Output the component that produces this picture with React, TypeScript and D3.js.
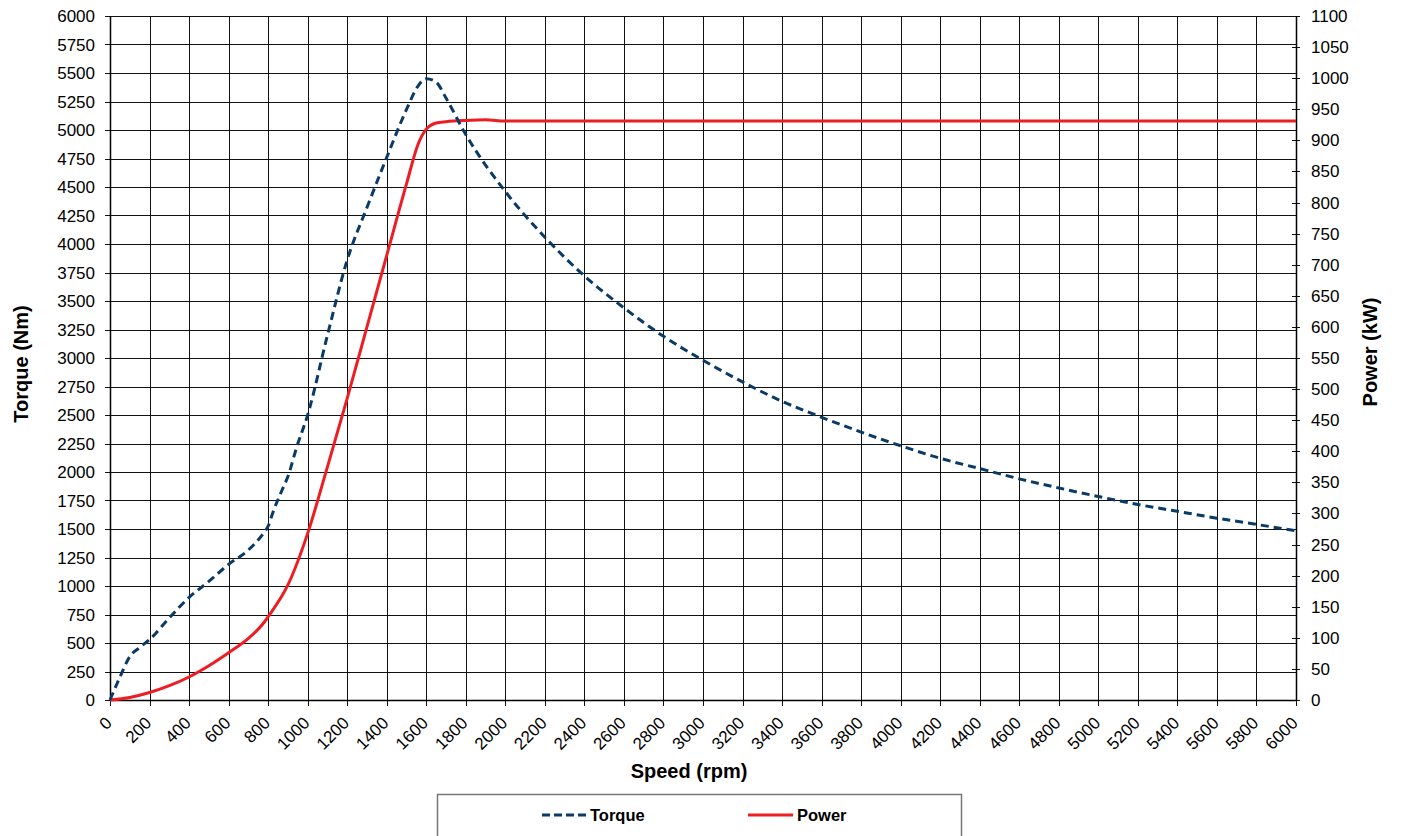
import * as d3 from 'd3';

// Speed (rpm) vs torque (Nm)
const torqueRpm = [0, 50, 100, 150, 200, 300, 400, 500, 600, 700, 775, 800, 825, 870, 900, 945, 1000, 1100, 1200, 1300, 1400, 1500, 1560, 1600, 1650, 1700, 1800, 2000, 2200, 2400, 2600, 2800, 3000, 3200, 3400, 3600, 3800, 4000, 4200, 4400, 4600, 4800, 5000, 5200, 5400, 5600, 5800, 6000];
const torqueNm = [0, 200, 380, 460, 530, 720, 900, 1040, 1190, 1316, 1460, 1525, 1650, 1840, 1960, 2220, 2500, 3200, 3860, 4320, 4760, 5180, 5390, 5450, 5420, 5280, 4960, 4460, 4060, 3720, 3440, 3190, 2980, 2790, 2620, 2480, 2350, 2230, 2120, 2030, 1940, 1860, 1785, 1715, 1655, 1595, 1540, 1485];

// Speed (rpm) vs power (kW)
const powerRpm = [0, 100, 200, 300, 400, 500, 600, 700, 780, 800, 900, 1000, 1100, 1200, 1300, 1400, 1500, 1560, 1600, 1650, 1700, 1800, 1900, 2000, 3000, 4000, 5000, 6000];
const powerKw = [0, 4, 12, 23, 37, 55, 76, 99, 125, 134, 185, 268, 375, 485, 600, 715, 830, 895, 918, 928, 930, 932, 933, 931, 931, 931, 931, 931];

const speedTicks = d3.range(0, 6001, 200);
const torqueTicks = d3.range(0, 6001, 250);
const powerTicks = d3.range(0, 1101, 50);

const W = 1402;
const H = 836;
const left = 110;
const right = 1296;
const top = 16;
const bottom = 700;
const font = 'Arial, "Liberation Sans", sans-serif';

export default function App() {
  const x = d3.scaleLinear().domain([0, 6000]).range([left, right]);
  const yT = d3.scaleLinear().domain([0, 6000]).range([bottom, top]);
  const yP = d3.scaleLinear().domain([0, 1100]).range([bottom, top]);

  const torqueLine = d3
    .line<number>()
    .x((d, i) => x(torqueRpm[i]))
    .y((d) => yT(d))
    .curve(d3.curveMonotoneX)(torqueNm);

  const powerLine = d3
    .line<number>()
    .x((d, i) => x(powerRpm[i]))
    .y((d) => yP(d))
    .curve(d3.curveMonotoneX)(powerKw);

  const px = (v: number) => Math.round(v) + 0.5;

  return (
    <svg
      width={W}
      height={H}
      style={{ position: 'absolute', left: 0, top: 0, background: '#fff' }}
      fontFamily={font}
    >
      {/* grid */}
      <g stroke="#111" strokeWidth={1} shapeRendering="crispEdges">
        {speedTicks.map((t) => (
          <line key={'v' + t} x1={px(x(t))} x2={px(x(t))} y1={top} y2={bottom + 6} />
        ))}
        {torqueTicks.map((t) => (
          <line key={'h' + t} x1={left - 5} x2={right} y1={px(yT(t))} y2={px(yT(t))} />
        ))}
        {powerTicks.map((t) => (
          <line key={'p' + t} x1={right - 4} x2={right + 4} y1={px(yP(t))} y2={px(yP(t))} />
        ))}
      </g>
      <line x1={px(left)} x2={px(left)} y1={top} y2={bottom} stroke="#000" strokeWidth={1.5} />
      <line x1={px(right)} x2={px(right)} y1={top} y2={bottom} stroke="#000" strokeWidth={1.5} />
      <line x1={left} x2={right} y1={px(bottom)} y2={px(bottom)} stroke="#000" strokeWidth={1.5} />

      {/* left axis labels */}
      <g fontSize={17} textAnchor="end" fill="#000">
        {torqueTicks.map((t) => (
          <text key={t} x={95} y={yT(t) + 6}>
            {t}
          </text>
        ))}
      </g>
      {/* right axis labels */}
      <g fontSize={17} textAnchor="start" fill="#000">
        {powerTicks.map((t) => (
          <text key={t} x={1311} y={yP(t) + 6}>
            {t}
          </text>
        ))}
      </g>
      {/* x axis labels */}
      <g fontSize={17} textAnchor="end" fill="#000">
        {speedTicks.map((t) => (
          <text key={t} transform={`translate(${x(t) + 3},${bottom + 24}) rotate(-45)`}>
            {t}
          </text>
        ))}
      </g>

      {/* titles */}
      <text x={689} y={778} fontSize={20} fontWeight="bold" textAnchor="middle">
        Speed (rpm)
      </text>
      <text transform={`translate(28,364) rotate(-90)`} fontSize={20} fontWeight="bold" textAnchor="middle">
        Torque (Nm)
      </text>
      <text transform={`translate(1377,352) rotate(-90)`} fontSize={20} fontWeight="bold" textAnchor="middle">
        Power (kW)
      </text>

      {/* series */}
      <path d={powerLine || ''} fill="none" stroke="#ee1d24" strokeWidth={3} strokeLinejoin="round" />
      <path d={torqueLine || ''} fill="none" stroke="#0a3a66" strokeWidth={3} strokeDasharray="8 5" />

      {/* legend */}
      <rect x={437.5} y={794.5} width={524} height={60} fill="#fff" stroke="#777" strokeWidth={1.5} />
      <line x1={542} x2={586} y1={815} y2={815} stroke="#0a3a66" strokeWidth={3} strokeDasharray="8 4" />
      <text x={590} y={821} fontSize={16.5} fontWeight="bold">
        Torque
      </text>
      <line x1={748} x2={793} y1={815} y2={815} stroke="#ee1d24" strokeWidth={3} />
      <text x={797} y={821} fontSize={16.5} fontWeight="bold">
        Power
      </text>
    </svg>
  );
}
